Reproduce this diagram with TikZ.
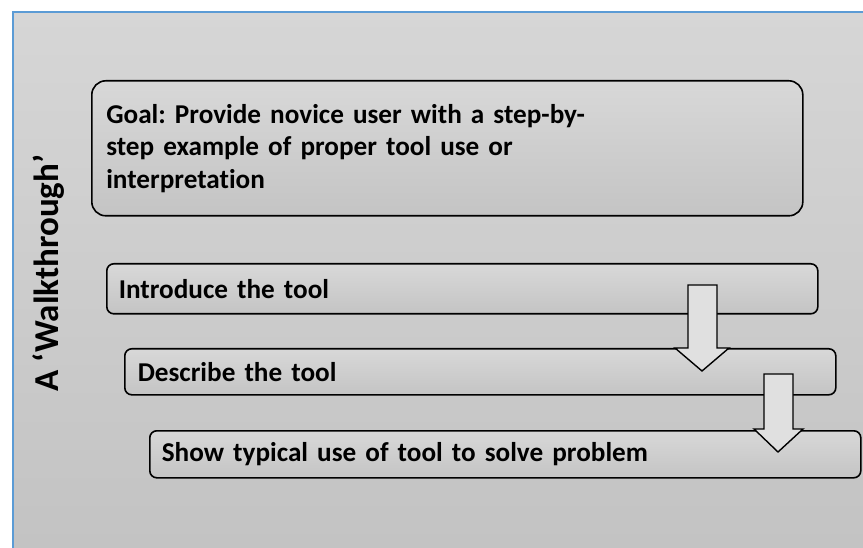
\documentclass[tikz,border=0pt]{standalone}
\usepackage{fontspec}
\setmainfont{Carlito}[Ligatures=NoCommon]
\definecolor{frameblue}{HTML}{5B9BD5}
\definecolor{bgtop}{HTML}{D6D6D6}
\definecolor{bgbot}{HTML}{C3C3C3}
\definecolor{boxtop}{HTML}{D8D8D8}
\definecolor{boxbot}{HTML}{C4C4C4}
\definecolor{arrowfill}{HTML}{E0E0E0}
\tikzset{
  stepbox/.style={draw=black, line width=1.6pt, rounded corners=7pt,
    top color=boxtop, bottom color=boxbot, anchor=north west,
    minimum width=711pt, align=left, inner ysep=0pt,
    font=\frenchspacing\bfseries\fontsize{27.2}{32.5}\selectfont},
  blockarrow/.style={draw=black, line width=1.4pt, fill=arrowfill, line join=miter},
  label/.style={font=\bfseries\fontsize{35}{40}\selectfont, rotate=90}
}
\begin{document}
\begin{tikzpicture}[x=1pt,y=-1pt]
\useasboundingbox (0,0) rectangle (863,548);
\fill[white] (0,0) rectangle (863,548);
% panel
\shade[top color=bgtop, bottom color=bgbot] (13,12) rectangle (863,548);
\draw[frameblue, line width=2pt] (13,548) -- (13,12) -- (863,12);
% side label
\node[label] (lbl) at (49,273) {A ‘Walkthrough’};
% goal box
\node[stepbox, minimum height=135pt, rounded corners=14pt, inner xsep=14pt, text width=682pt]
  (goal) at (91,80) {Goal: Provide novice user with a step-by-\\step example of proper tool use or\\interpretation};
% steps
\node[stepbox, minimum height=50pt, inner xsep=12pt, text width=687pt] (s1) at (106,263) {Introduce the tool};
\node[stepbox, minimum height=46pt, inner xsep=13pt, text width=685pt] (s2) at (124,348) {Describe the tool};
\node[stepbox, minimum height=47pt, inner xsep=12pt, text width=687pt] (s3) at (149,430) {Show typical use of tool to solve problem};
% block arrows
\draw[blockarrow] (688,285) -- (717,285) -- (717,348) -- (729,348) -- (702,371) -- (675,348) -- (688,348) -- cycle;
\draw[blockarrow] (764,374) -- (793,374) -- (793,429) -- (803,429) -- (778,452) -- (754,429) -- (764,429) -- cycle;
\end{tikzpicture}
\end{document}
